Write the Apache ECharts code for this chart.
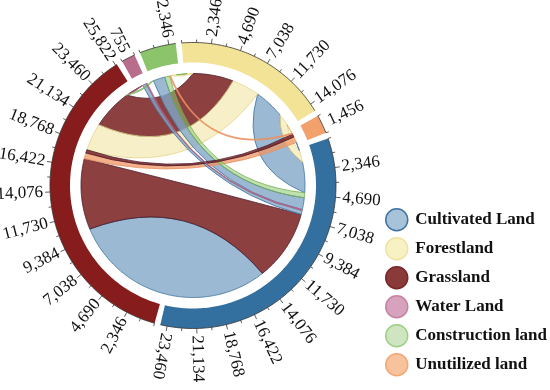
<!DOCTYPE html>
<html><head><meta charset="utf-8">
<script src="https://cdn.jsdelivr.net/npm/echarts@6/dist/echarts.min.js"></script>
<style>html,body{margin:0;padding:0;background:#fff}#c{width:550px;height:390px}</style>
</head><body><div id="c"></div>
<script>
// ---- data ----
const categories = ['Grassland','Water Land','Construction land','Forestland','Unutilized land','Cultivated Land'];
// transfer flows, row = from, column = to (same order as categories)
const fromGrassland    = [0, 500, 0, 4100, 330, 7200];
const fromWater        = [100, 0, 0, 0, 0, 100];
const fromConstruction = [200, 0, 0, 300, 0, 500];
const fromForest       = [2800, 0, 600, 0, 100, 1200];
const fromUnutilized   = [600, 0, 100, 150, 0, 0];
const fromCultivated   = [10100, 400, 1200, 3100, 200, 0];
const tickStep = 2346;
const labelsGrassland    = ['2,346','4,690','7,038','9,384','11,730','14,076','16,422','18,768','21,134','23,460','25,822'];
const labelsWater        = ['755'];
const labelsConstruction = ['2,346'];
const labelsForest       = ['2,346','4,690','7,038','11,730','14,076'];
const labelsUnutilized   = ['1,456'];
const labelsCultivated   = ['2,346','4,690','7,038','9,384','11,730','14,076','16,422','18,768','21,134','23,460'];
const legendOrder = ['Cultivated Land','Forestland','Grassland','Water Land','Construction land','Unutilized land'];

// ---- styles ----
const ringColors   = ['#861c1c','#b96d8d','#8cc46c','#f3e396','#f2a16c','#336f9f'];
const ribbonFill   = ['rgba(120,30,30,0.85)','rgba(190,110,150,0.6)','rgba(140,200,110,0.55)','rgba(238,220,130,0.45)','rgba(240,150,100,0.75)','rgba(130,168,200,0.8)'];
const ribbonStroke = ['#4a1e2e','#b06080','#72b050','#e6d48a','#e89060','#3f73a0'];
const legendFill   = ['#8b3a3a','#d6a2bd','#cfe5c1','#f8f1c4','#f8c29c','#a7c3da'];
const legendBorder = ['#7a2626','#c483a4','#9fcf85','#f0e2a0','#f2a774','#3f73a0'];
const R_OUT = 143, R_IN = 123, R_CHORD = 112;
const GAP_DEG = 2.4;
const START_DEG = 195.6; // clockwise from 12 o'clock, where Grassland begins

// ---- layout ----
const M = [fromGrassland, fromWater, fromConstruction, fromForest, fromUnutilized, fromCultivated];
const allLabels = [labelsGrassland, labelsWater, labelsConstruction, labelsForest, labelsUnutilized, labelsCultivated];
const N = categories.length;
const totals = categories.map((_, i) => M[i].reduce((a, b) => a + b, 0) + M.reduce((a, row) => a + row[i], 0));
const SUM = totals.reduce((a, b) => a + b, 0);
const TOT = SUM / (1 - N * GAP_DEG / 360);
const GAP = TOT * GAP_DEG / 360;
const starts = [];
{ let acc = 0; for (let i = 0; i < N; i++) { starts.push(acc); acc += totals[i] + GAP; } }
const ends = {};
for (let i = 0; i < N; i++) {
  let pos = starts[i];
  for (let k = 1; k < N; k++) {
    const j = (i - k + N) % N;
    const vin = M[j][i];
    if (vin > 0) { (ends[j + '-' + i] = ends[j + '-' + i] || {}).tgt = [pos, pos + vin]; pos += vin; }
    const vout = M[i][j];
    if (vout > 0) { (ends[i + '-' + j] = ends[i + '-' + j] || {}).src = [pos, pos + vout]; pos += vout; }
  }
}
const links = [];
for (let s = 0; s < N; s++) for (let t = 0; t < N; t++) if (M[s][t] > 0) {
  const e = ends[s + '-' + t];
  links.push({ s, t, v: M[s][t], a: e.src, b: e.tgt });
}
links.sort((x, y) => y.v - x.v);

const ticks = [];
categories.forEach((c, i) => {
  const T = totals[i], s0 = starts[i], labs = allLabels[i], half = tickStep / 2;
  if (T < tickStep) {
    ticks.push({ i, v: s0, len: 3 });
    ticks.push({ i, v: s0 + T, len: 3 });
    ticks.push({ i, v: s0 + T / 2, len: 0, label: labs[0] });
  } else {
    for (let k = 0; k * half <= T; k++) {
      const major = k % 2 === 0 && k > 0;
      ticks.push({ i, v: s0 + k * half, len: major ? 5 : 3, label: major ? labs[k / 2 - 1] : null });
    }
  }
});

// ---- helpers (all pixel positions come from api.coord on the polar system) ----
const f = p => p[0].toFixed(2) + ',' + p[1].toFixed(2);
function arcPts(api, a0, a1, r) {
  const n = Math.max(2, Math.ceil(Math.abs(a1 - a0) / (TOT / 360)) + 1);
  const pts = [];
  for (let k = 0; k < n; k++) pts.push(api.coord([r, a0 + (a1 - a0) * k / (n - 1)]));
  return pts;
}
function ctrl(api, p, q) {
  let d = Math.abs(p - q), mid = (p + q) / 2;
  if (d > TOT / 2) { d = TOT - d; mid = (mid + TOT / 2) % TOT; }
  const deg = d * 360 / TOT;
  const rc = R_CHORD * Math.pow(Math.cos(deg / 2 * Math.PI / 180), 6);
  return api.coord([rc, mid]);
}

const series = [];
series.push({
  type: 'custom', name: 'flows', coordinateSystem: 'polar', silent: true, z: 1,
  data: links.map((l, k) => [l.v, (l.a[0] + l.a[1]) / 2]),
  renderItem: (params, api) => {
    const l = links[params.dataIndex];
    const A = arcPts(api, l.a[0], l.a[1], R_CHORD), B = arcPts(api, l.b[0], l.b[1], R_CHORD);
    let s = 'M' + f(A[0]);
    for (let k = 1; k < A.length; k++) s += 'L' + f(A[k]);
    s += 'Q' + f(ctrl(api, l.a[1], l.b[0])) + ' ' + f(B[0]);
    for (let k = 1; k < B.length; k++) s += 'L' + f(B[k]);
    s += 'Q' + f(ctrl(api, l.b[1], l.a[0])) + ' ' + f(A[0]) + 'Z';
    return { type: 'path', shape: { pathData: s }, style: { fill: ribbonFill[l.s], stroke: ribbonStroke[l.s], lineWidth: 0.8 } };
  }
});
categories.forEach((c, i) => {
  series.push({
    type: 'custom', name: c, coordinateSystem: 'polar', silent: true, z: 2,
    itemStyle: { color: ringColors[i] },
    data: [[R_OUT, starts[i] + totals[i] / 2]],
    renderItem: (params, api) => {
      const outer = arcPts(api, starts[i], starts[i] + totals[i], R_OUT);
      const inner = arcPts(api, starts[i] + totals[i], starts[i], R_IN);
      return { type: 'group', children: [
        { type: 'polygon', shape: { points: outer.concat(inner) }, style: { fill: ringColors[i] } },
        { type: 'polyline', shape: { points: outer }, style: { fill: null, stroke: '#333', lineWidth: 0.8 } }
      ] };
    }
  });
});
series.push({
  type: 'custom', name: 'ticks', coordinateSystem: 'polar', silent: true, z: 3,
  data: ticks.map(t => [R_OUT, t.v]),
  renderItem: (params, api) => {
    const t = ticks[params.dataIndex];
    const c = api.coord([0, t.v]), p = api.coord([R_OUT, t.v]);
    const ang = Math.atan2(p[1] - c[1], p[0] - c[0]);
    const pm = api.coord([R_OUT, starts[t.i] + totals[t.i] / 2]);
    const outward = pm[0] > c[0];
    const children = [];
    if (t.len > 0) {
      const p2 = api.coord([R_OUT + t.len, t.v]);
      children.push({ type: 'line', shape: { x1: p[0], y1: p[1], x2: p2[0], y2: p2[1] }, style: { stroke: '#333', lineWidth: 0.8 } });
    }
    if (t.label) {
      const q = api.coord([R_OUT + 7, t.v]);
      children.push({ type: 'text', x: q[0], y: q[1], rotation: outward ? -ang : -ang + Math.PI,
        style: { text: t.label, align: outward ? 'left' : 'right', verticalAlign: 'middle',
          font: '17px "Liberation Serif"', fill: '#111' } });
    }
    return { type: 'group', children };
  }
});

const ELLIPSE = 'path://M0,50A50,50,0,1,1,100,50A50,50,0,1,1,0,50Z';
const chart = echarts.init(document.getElementById('c'), null, { renderer: 'canvas' });
chart.setOption({
  animation: false,
  backgroundColor: '#fff',
  polar: { center: [193, 185.5], radius: R_OUT },
  angleAxis: { type: 'value', min: 0, max: TOT, startAngle: 90 - START_DEG + 360, clockwise: true, show: false },
  radiusAxis: { type: 'value', min: 0, max: R_OUT, show: false },
  legend: {
    orient: 'vertical', left: 380, top: 203, itemWidth: 27, itemHeight: 22, itemGap: 5.5, selectedMode: false,
    textStyle: { fontFamily: 'Liberation Serif', fontWeight: 'bold', fontSize: 17, color: '#111' },
    data: legendOrder.map(n => {
      const i = categories.indexOf(n);
      return { name: n, icon: ELLIPSE, itemStyle: { color: legendFill[i], borderColor: legendBorder[i], borderWidth: 1.5 } };
    })
  },
  series
});
</script></body></html>
